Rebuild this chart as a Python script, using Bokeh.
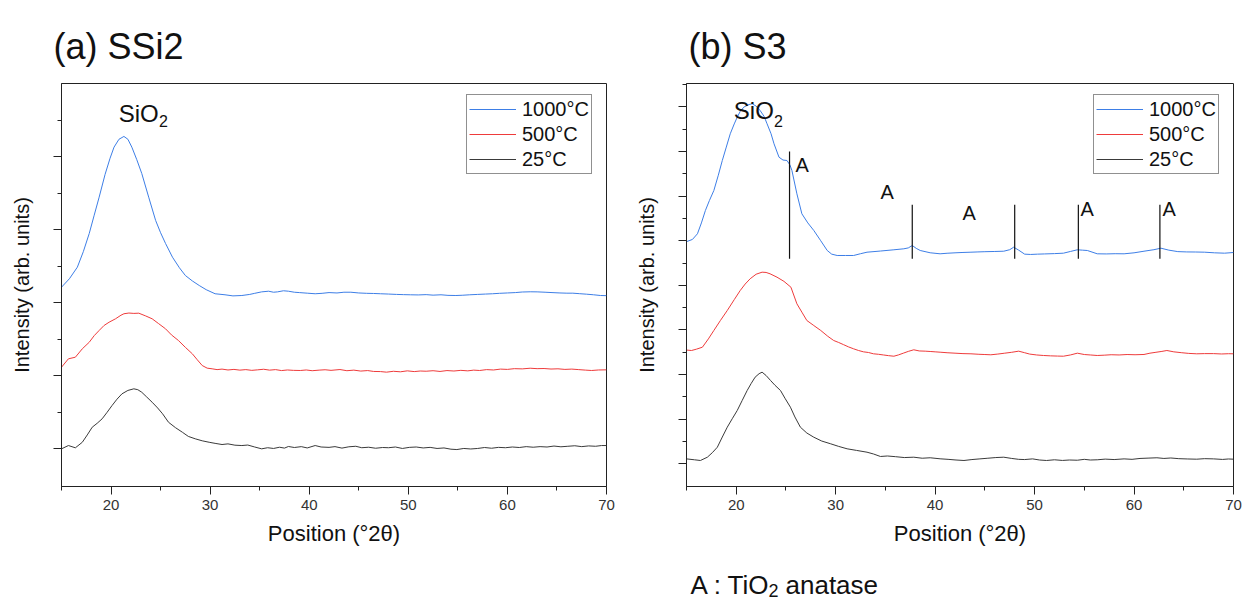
from bokeh.plotting import figure
from bokeh.models import Range1d, FixedTicker, Legend, LegendItem, Label
from bokeh.layouts import row, column
from bokeh.core.properties import value
from bokeh.embed import file_html
from bokeh.resources import INLINE

FONT = "Liberation Sans"
C_BLUE = "#3d7ee6"
C_RED = "#ee3b3b"
C_BLACK = "#3a3a3a"

series_labels = ["1000°C", "500°C", "25°C"]
x_major = [20, 30, 40, 50, 60, 70]
x_minor = [15, 25, 35, 45, 55, 65]

# ---------------- (a) SSi2 ----------------
ax_1000 = [15.0, 15.8, 16.6, 17.2, 17.8, 18.3, 18.8, 19.4, 19.9, 20.3, 20.8, 21.3, 21.7, 22.1, 22.6, 23.1, 23.8, 24.5, 25.0, 25.5, 26.2, 26.9, 27.5, 28.2, 28.9, 29.6, 30.5, 31.5, 32.3, 33.2, 34.0, 34.5, 35.2, 35.9, 36.4, 36.8, 37.4, 37.9, 38.5, 39.0, 39.8, 40.6, 41.3, 42.0, 42.8, 43.5, 44.2, 45.0, 45.8, 46.5, 47.2, 48.0, 48.8, 49.5, 50.2, 51.0, 51.8, 52.5, 53.3, 54.0, 54.8, 55.5, 56.2, 57.0, 57.8, 58.5, 59.2, 60.0, 60.8, 61.5, 62.3, 63.0, 63.8, 64.5, 65.3, 66.0, 66.6, 67.3, 68.0, 68.7, 69.4, 70.0]
ay_1000 = [2214, 2330, 2488, 2700, 2950, 3200, 3447, 3760, 3980, 4132, 4240, 4279, 4240, 4132, 3960, 3772, 3447, 3128, 2960, 2813, 2625, 2480, 2374, 2300, 2237, 2180, 2124, 2110, 2095, 2100, 2115, 2130, 2150, 2159, 2145, 2150, 2165, 2159, 2145, 2140, 2132, 2124, 2130, 2140, 2135, 2145, 2145, 2135, 2130, 2128, 2124, 2120, 2115, 2112, 2110, 2108, 2112, 2105, 2110, 2102, 2100, 2104, 2110, 2115, 2120, 2124, 2130, 2135, 2140, 2148, 2151, 2150, 2145, 2140, 2135, 2132, 2132, 2125, 2118, 2110, 2100, 2098]

ax_500 = [15.0, 15.7, 16.4, 17.1, 17.8, 18.3, 18.8, 19.3, 19.8, 20.45, 21.0, 21.3, 21.8, 22.3, 22.8, 23.5, 24.15, 24.8, 25.5, 26.1, 26.8, 27.5, 28.2, 28.7, 29.2, 29.7, 30.2, 30.7, 31.2, 31.8, 32.4, 33.0, 33.6, 34.2, 34.8, 35.4, 36.0, 36.6, 37.2, 37.8, 38.4, 39.1, 39.7, 40.3, 41.0, 41.6, 42.2, 43.1, 43.8, 44.5, 45.2, 45.9, 46.5, 47.2, 47.8, 48.5, 49.2, 49.9, 50.6, 51.2, 51.8, 52.5, 53.2, 53.9, 54.6, 55.3, 56.0, 56.6, 57.2, 57.9, 58.6, 59.3, 60.0, 60.7, 61.5, 62.3, 63.0, 63.7, 64.4, 65.1, 65.8, 66.5, 67.2, 67.9, 68.5, 69.2, 70.0]
ay_500 = [1118, 1233, 1255, 1370, 1460, 1550, 1621, 1690, 1734, 1781, 1830, 1850, 1860, 1855, 1858, 1820, 1781, 1715, 1644, 1560, 1484, 1390, 1302, 1220, 1141, 1105, 1096, 1085, 1092, 1080, 1088, 1078, 1085, 1075, 1082, 1090, 1078, 1085, 1072, 1080, 1075, 1073, 1080, 1070, 1078, 1083, 1075, 1086, 1070, 1078, 1065, 1072, 1060, 1058, 1050, 1062, 1055, 1068, 1058, 1066, 1063, 1070, 1060, 1072, 1066, 1075, 1068, 1078, 1073, 1085, 1080, 1092, 1088, 1098, 1095, 1104, 1098, 1100, 1093, 1096, 1088, 1092, 1085, 1078, 1073, 1080, 1082]

ax_25 = [15.0, 15.7, 16.4, 17.1, 17.6, 18.1, 18.6, 19.1, 19.6, 20.1, 20.6, 21.1, 21.7, 22.3, 22.7, 23.1, 23.6, 24.15, 24.7, 25.2, 25.8, 26.5, 27.2, 27.8, 28.5, 29.2, 29.9, 30.5, 31.2, 31.8, 32.5, 33.2, 33.8, 34.5, 35.2, 35.8, 36.4, 37.0, 37.5, 37.9, 38.5, 39.2, 39.8, 40.6, 41.2, 42.0, 42.6, 43.3, 44.0, 44.7, 45.3, 46.0, 46.7, 47.4, 48.0, 48.7, 49.4, 50.1, 50.8, 51.5, 52.2, 52.9, 53.6, 54.3, 54.9, 55.6, 56.3, 57.0, 57.7, 58.4, 59.1, 59.8, 60.5, 61.2, 61.9, 62.6, 63.3, 64.0, 64.7, 65.4, 66.1, 66.8, 67.5, 68.2, 68.9, 69.5, 70.0]
ay_25 = [0, 45, 14, 90, 190, 296, 350, 411, 500, 593, 680, 753, 800, 822, 810, 775, 710, 638, 560, 480, 364, 290, 227, 170, 137, 110, 90, 75, 59, 68, 50, 45, 52, 25, 0, 15, 5, 22, 10, 32, 18, 30, 12, 45, 25, 20, 30, 10, 28, 35, 15, 22, 8, 18, 15, 25, 5, 20, 25, 12, 20, 5, 12, -5, -10, 5, -2, 5, 18, 8, 20, 15, 25, 18, 30, 22, 30, 25, 38, 28, 35, 42, 30, 40, 35, 45, 45]

a_y_major = [0, 1000, 2000, 3000, 4000]
a_y_minor = [500, 1500, 2500, 3500, 4500]

# ---------------- (b) S3 ----------------
bx_1000 = [15.0, 15.6, 16.1, 16.5, 16.9, 17.3, 17.75, 18.2, 18.6, 19.0, 19.4, 19.8, 20.1, 20.4, 20.76, 21.2, 21.6, 22.0, 22.4, 22.8, 23.1, 23.5, 23.8, 24.3, 24.7, 25.1, 25.4, 25.6, 26.1, 26.6, 27.2, 27.8, 28.5, 29.15, 29.6, 30.15, 31.0, 31.8, 32.5, 33.15, 34.5, 35.85, 36.85, 37.3, 37.7, 38.1, 38.5, 39.5, 40.5, 41.2, 42.0, 42.8, 43.6, 44.3, 45.0, 46.0, 46.9, 47.5, 47.9, 48.4, 49.0, 49.6, 50.3, 51.0, 52.0, 52.9, 53.6, 54.3, 54.8, 55.3, 56.3, 57.2, 58.1, 59.0, 60.0, 61.0, 62.0, 62.7, 63.5, 64.4, 65.3, 66.2, 67.1, 68.1, 69.1, 70.0]
by_1000 = [4980, 5030, 5157, 5400, 5679, 5900, 6127, 6470, 6800, 7100, 7399, 7620, 7771, 7900, 7995, 8050, 8071, 8020, 7921, 7790, 7623, 7400, 7174, 6874, 6810, 6800, 6700, 6576, 6053, 5605, 5400, 5231, 5000, 4782, 4700, 4670, 4670, 4670, 4710, 4744, 4770, 4798, 4820, 4840, 4894, 4830, 4782, 4731, 4708, 4720, 4730, 4738, 4744, 4750, 4755, 4760, 4766, 4800, 4856, 4790, 4700, 4693, 4700, 4705, 4712, 4722, 4760, 4798, 4790, 4782, 4708, 4705, 4710, 4708, 4730, 4766, 4800, 4834, 4790, 4757, 4750, 4748, 4744, 4730, 4722, 4737]

bx_500 = [15.0, 15.5, 16.0, 16.6, 17.2, 17.75, 18.4, 19.1, 19.8, 20.4, 20.9, 21.4, 22.0, 22.6, 23.0, 23.4, 24.1, 24.8, 25.5, 26.1, 26.6, 27.1, 27.8, 28.5, 29.2, 29.8, 30.3, 30.8, 31.3, 31.8, 32.3, 32.8, 33.3, 33.8, 34.3, 34.8, 35.3, 35.85, 36.3, 36.8, 37.3, 37.85, 38.4, 39.0, 39.5, 40.0, 40.5, 41.2, 42.0, 42.8, 43.6, 44.4, 45.0, 45.6, 46.3, 47.0, 47.7, 48.4, 49.0, 49.5, 50.2, 50.9, 51.6, 52.3, 52.9, 53.6, 54.3, 55.0, 55.6, 56.3, 57.0, 57.7, 58.5, 59.3, 60.1, 61.0, 61.6, 62.2, 62.8, 63.3, 64.0, 64.8, 65.5, 66.3, 67.1, 68.0, 68.8, 69.5, 70.0]
by_500 = [2550, 2540, 2570, 2614, 2800, 2989, 3210, 3437, 3680, 3885, 4030, 4148, 4250, 4296, 4290, 4260, 4184, 4090, 3959, 3587, 3400, 3213, 3100, 2989, 2860, 2764, 2720, 2670, 2620, 2578, 2540, 2510, 2495, 2466, 2455, 2440, 2425, 2412, 2440, 2480, 2520, 2556, 2530, 2525, 2518, 2510, 2502, 2490, 2480, 2470, 2466, 2455, 2450, 2444, 2460, 2480, 2500, 2525, 2490, 2460, 2440, 2428, 2420, 2415, 2412, 2440, 2480, 2450, 2440, 2428, 2435, 2445, 2440, 2450, 2445, 2451, 2480, 2500, 2520, 2540, 2510, 2490, 2475, 2466, 2470, 2470, 2462, 2468, 2466]

bx_25 = [15.0, 15.8, 16.4, 17.1, 17.6, 18.1, 18.6, 19.1, 19.6, 20.1, 20.6, 21.1, 21.5, 21.9, 22.3, 22.6, 23.0, 23.45, 23.9, 24.45, 24.9, 25.45, 25.9, 26.45, 27.1, 27.8, 28.6, 29.5, 30.3, 31.15, 32.1, 33.15, 33.8, 34.5, 35.2, 36.0, 36.9, 37.85, 38.7, 39.5, 40.5, 41.3, 42.1, 42.9, 43.7, 44.5, 45.3, 46.1, 46.9, 47.7, 48.4, 49.0, 49.8, 50.5, 51.2, 52.0, 52.8, 53.5, 54.3, 55.0, 55.6, 56.3, 57.1, 58.0, 59.0, 59.8, 60.6, 61.5, 62.3, 63.0, 63.7, 64.5, 65.4, 66.3, 67.1, 68.0, 68.9, 69.5, 70.0]
by_25 = [110, 90, 74, 148, 250, 372, 600, 821, 1010, 1195, 1420, 1643, 1800, 1942, 2020, 2054, 1980, 1868, 1760, 1643, 1470, 1269, 1050, 821, 690, 596, 510, 448, 390, 336, 300, 260, 220, 164, 175, 160, 140, 148, 125, 135, 112, 100, 85, 74, 95, 110, 125, 140, 148, 120, 100, 95, 110, 85, 74, 90, 75, 85, 80, 100, 85, 90, 105, 95, 110, 100, 120, 128, 135, 120, 130, 115, 108, 103, 115, 110, 98, 108, 103]

b_y_major = [0, 1000, 2000, 3000, 4000, 5000, 6000, 7000, 8000]
b_y_minor = [500, 1500, 2500, 3500, 4500, 5500, 6500, 7500, 8500]

# anatase (A) reflections marked in (b)
anatase_x = [25.36, 37.7, 48.0, 54.4, 62.6]
anatase_top = [7002, 5807, 5807, 5807, 5807]
anatase_bottom = [4596, 4596, 4596, 4596, 4596]
anatase_label_x = [25.96, 34.51, 42.75, 54.62, 62.86]
anatase_label_y = [6710, 6094, 5612, 5713, 5713]


def make_fig(width, height, bl, br, bb, y0, y1, ymaj, ymin, title, title_offset):
    p = figure(width=width, height=height, x_range=Range1d(15, 70), y_range=Range1d(y0, y1),
               output_backend="svg", toolbar_location=None,
               min_border_left=bl, min_border_right=br, min_border_top=83, min_border_bottom=bb)
    p.title.text = title
    p.title.align = "left"
    p.title.offset = title_offset
    p.title.standoff = 34
    p.title.text_font = FONT
    p.title.text_font_size = "36px"
    p.title.text_font_style = "normal"
    p.title.text_color = "#111111"
    p.grid.visible = False
    p.background_fill_color = "white"
    p.border_fill_color = "white"
    p.outline_line_color = "#222222"
    p.outline_line_width = 1
    p.xaxis.ticker = FixedTicker(ticks=x_major, minor_ticks=x_minor)
    p.yaxis.ticker = FixedTicker(ticks=ymaj, minor_ticks=ymin)
    p.yaxis.major_label_overrides = {v: "" for v in ymaj}
    p.yaxis.major_label_standoff = 0
    p.xaxis.axis_label = "Position (°2θ)"
    p.yaxis.axis_label = "Intensity (arb. units)"
    for ax in (p.xaxis[0], p.yaxis[0]):
        ax.axis_line_color = "#222222"
        ax.major_tick_line_color = "#222222"
        ax.minor_tick_line_color = "#222222"
        ax.major_tick_out = 8
        ax.major_tick_in = 0
        ax.minor_tick_out = 4
        ax.minor_tick_in = 0
        ax.axis_label_text_font = FONT
        ax.axis_label_text_font_style = "normal"
        ax.axis_label_text_color = "#111111"
        ax.major_label_text_font = FONT
        ax.major_label_text_color = "#333333"
    p.xaxis.major_label_text_font_size = "15px"
    p.xaxis.major_label_standoff = 5
    p.xaxis.axis_label_text_font_size = "22px"
    p.xaxis.axis_label_standoff = 8
    p.yaxis.axis_label_text_font_size = "20px"
    p.yaxis.axis_label_standoff = 21
    return p


def add_curves(p, xs_list, ys_list, legend_loc):
    rs = []
    for xs, ys, col in zip(xs_list, ys_list, [C_BLUE, C_RED, C_BLACK]):
        rs.append(p.line(xs, ys, line_color=col, line_width=1))
    leg = Legend(items=[LegendItem(label=lab, renderers=[r]) for lab, r in zip(series_labels, rs)],
                 location=legend_loc, orientation="vertical",
                 label_text_font=FONT, label_text_font_size="20px", label_text_color="#111111",
                 label_text_baseline="middle",
                 glyph_width=47, glyph_height=24, label_height=24, label_standoff=6,
                 spacing=1, padding=2, margin=0,
                 border_line_color="#222222", border_line_width=1,
                 background_fill_color="white", background_fill_alpha=1.0)
    p.add_layout(leg)


def add_label(p, x, y, text, size):
    p.add_layout(Label(x=x, y=y, text=text, text_font=FONT, text_font_size=size,
                       text_align="left", text_baseline="middle", text_color="#111111"))


# Left panel
pa = make_fig(628, 597, 61, 22, 111, -516, 5004, a_y_major, a_y_minor, "(a) SSi2", -8)
add_curves(pa, [ax_1000, ax_500, ax_25], [ay_1000, ay_500, ay_25], (405, 312))
add_label(pa, 20.78, 4598, "SiO", "24px")
add_label(pa, 24.85, 4490, "2", "16px")

# Right panel
pb = make_fig(622, 558, 58, 17, 72, -509, 8526, b_y_major, b_y_minor, "(b) S3", 2)
add_curves(pb, [bx_1000, bx_500, bx_25], [by_1000, by_500, by_25], (407, 312))
pb.segment(x0=anatase_x, y0=anatase_bottom, x1=anatase_x, y1=anatase_top,
           line_color="#111111", line_width=1.2)
for lx, ly in zip(anatase_label_x, anatase_label_y):
    add_label(pb, lx, ly, "A", "20px")
add_label(pb, 19.76, 7921, "SiO", "24px")
add_label(pb, 23.8, 7690, "2", "16px")

# footnote below panel (b): frame spans the same pixels as panel (b), x in page pixels - 628
fb = figure(width=622, height=46, x_range=Range1d(58, 605), y_range=Range1d(46, 0),
            x_axis_type=None, y_axis_type=None, output_backend="svg", toolbar_location=None,
            min_border_left=58, min_border_right=17, min_border_top=0, min_border_bottom=0)
fb.grid.visible = False
fb.outline_line_color = None
fb.background_fill_color = "white"
fb.border_fill_color = "white"
foot_parts = ["A : TiO", "2", "anatase"]
foot_x = [62, 140, 157]
foot_y = [26, 32, 26]
foot_size = ["26px", "18px", "26px"]
for t, x, y, s in zip(foot_parts, foot_x, foot_y, foot_size):
    fb.text(x=[x], y=[y], text=[t], text_font=value(FONT), text_font_size=value(s),
            text_align="left", text_baseline="middle", text_color="#111111")

layout = row(pa, column(pb, fb))
open("out.html", "w").write(file_html(layout, INLINE))
